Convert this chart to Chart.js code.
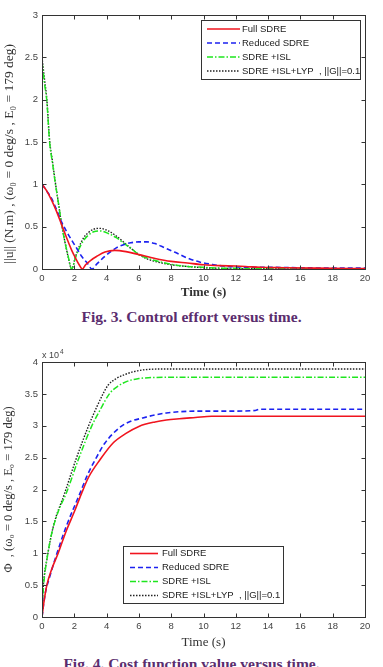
<!DOCTYPE html>
<html>
<head>
<meta charset="utf-8">
<script src="https://cdn.jsdelivr.net/npm/chart.js@4.4.1/dist/chart.umd.min.js"></script>
<style>
  html, body { margin: 0; padding: 0; background: #fff; }
  body { width: 383px; height: 667px; position: relative; overflow: hidden; }
  .wrap { position: absolute; left: 0; width: 383px; }
  .caption { position: absolute; left: 0; width: 383px; text-align: center; font: bold 15.5px "Liberation Serif", serif; color: #5b2d6e; }
</style>
</head>
<body>
<div class="wrap" style="top:0;height:300px"><canvas id="effort"></canvas></div>
<div class="caption" style="top:308px">Fig. 3. Control effort versus time.</div>
<div class="wrap" style="top:330px;height:320px"><canvas id="cost"></canvas></div>
<div class="caption" style="top:655px">Fig. 4. Cost function value versus time.</div>
<script>
// ---- Fig. 3 data: ||u|| (N.m) vs time (s)
const fullT = [0, 0.3, 0.6, 0.9, 1.2, 1.5, 1.84, 2.1, 2.3, 2.5, 2.7, 3.0, 3.4, 3.9, 4.5, 5.2, 6.0, 7.0, 8.0, 9.0, 10.0, 11.0, 12.0, 12.6, 13.5, 15, 17, 20];
const fullU = [1.0, 0.92, 0.81, 0.68, 0.53, 0.38, 0.22, 0.12, 0.05, 0.0, 0.05, 0.1, 0.15, 0.2, 0.22, 0.205, 0.17, 0.125, 0.09, 0.07, 0.05, 0.04, 0.035, 0.03, 0.02, 0.015, 0.01, 0.005];

const reducedT = [0, 0.3, 0.6, 0.9, 1.2, 1.5, 1.84, 2.1, 2.45, 2.8, 3.1, 3.4, 3.9, 4.3, 4.7, 5.1, 5.5, 6.0, 6.5, 7.0, 7.6, 8.2, 9.0, 9.8, 10.5, 11.2, 12, 14, 16, 18, 20];
const reducedU = [1.0, 0.92, 0.83, 0.7, 0.56, 0.45, 0.34, 0.26, 0.15, 0.07, 0.0, 0.06, 0.15, 0.21, 0.26, 0.29, 0.31, 0.32, 0.32, 0.3, 0.25, 0.2, 0.13, 0.08, 0.055, 0.035, 0.025, 0.02, 0.015, 0.01, 0.01];

const islT = [0, 0.15, 0.3, 0.47, 0.65, 0.82, 1.0, 1.24, 1.42, 1.6, 1.84, 2.05, 2.25, 2.55, 2.87, 3.2, 3.6, 4.1, 4.6, 5.1, 5.6, 6.0, 6.5, 7.0, 8.0, 9.0, 10, 11, 12, 14, 20];
const islU = [2.45, 2.2, 1.98, 1.5, 1.25, 1.02, 0.8, 0.5, 0.32, 0.17, 0.0, 0.12, 0.22, 0.33, 0.4, 0.44, 0.45, 0.42, 0.37, 0.3, 0.23, 0.17, 0.13, 0.1, 0.055, 0.03, 0.02, 0.01, 0.008, 0.005, 0.003];

const lypT = [0, 0.15, 0.3, 0.47, 0.65, 0.82, 1.0, 1.24, 1.42, 1.6, 1.84, 2.05, 2.25, 2.55, 2.87, 3.2, 3.6, 4.1, 4.6, 5.1, 5.6, 6.0, 6.5, 7.0, 8.0, 9.0, 10, 11, 12, 14, 20];
const lypU = [2.5, 2.25, 2.0, 1.52, 1.27, 1.03, 0.8, 0.5, 0.32, 0.16, 0.0, 0.13, 0.24, 0.36, 0.43, 0.47, 0.48, 0.45, 0.39, 0.31, 0.23, 0.17, 0.12, 0.09, 0.05, 0.03, 0.015, 0.008, 0.005, 0.003, 0.002];

// ---- Fig. 4 data: cost Phi (x 10^4) vs time (s)
const fullT2 = [0, 0.1, 0.3, 0.6, 1.0, 1.5, 2.0, 2.45, 2.9, 3.6, 4.4, 5.2, 6.0, 7.0, 7.7, 8.5, 9.5, 10.5, 12, 14, 16, 18, 20];
const fullPhi = [0, 0.2, 0.5, 0.75, 1.0, 1.35, 1.65, 1.94, 2.2, 2.47, 2.73, 2.88, 2.99, 3.06, 3.09, 3.11, 3.13, 3.15, 3.15, 3.15, 3.15, 3.15, 3.15];

const reducedT2 = [0, 0.1, 0.2, 0.5, 0.8, 1.5, 2.35, 2.8, 3.3, 3.9, 4.9, 5.5, 6.2, 7.0, 7.7, 8.5, 10, 12, 13.2, 13.5, 16, 20];
const reducedPhi = [0, 0.2, 0.37, 0.65, 0.9, 1.42, 1.94, 2.22, 2.47, 2.73, 2.99, 3.07, 3.12, 3.17, 3.2, 3.22, 3.23, 3.23, 3.24, 3.26, 3.26, 3.26];

const islT2 = [0, 0.05, 0.1, 0.3, 0.6, 1.0, 1.5, 2.25, 3.07, 3.6, 4.2, 4.7, 5.3, 6.0, 6.4, 7.5, 9, 12, 16, 20];
const islPhi = [0, 0.3, 0.5, 0.9, 1.31, 1.65, 1.94, 2.47, 2.99, 3.25, 3.51, 3.62, 3.7, 3.74, 3.75, 3.76, 3.76, 3.76, 3.76, 3.76];

const lypT2 = [0, 0.05, 0.1, 0.3, 0.7, 1.4, 2.1, 2.87, 3.4, 3.8, 4.1, 4.6, 5.1, 5.7, 6.4, 7.5, 9, 12, 16, 20];
const lypPhi = [0, 0.35, 0.55, 0.9, 1.42, 1.94, 2.47, 2.99, 3.3, 3.51, 3.64, 3.74, 3.8, 3.85, 3.88, 3.89, 3.89, 3.89, 3.89, 3.89];

const seriesNames = ["Full SDRE", "Reduced SDRE", "SDRE +ISL", "SDRE +ISL+LYP  , ||G||=0.1"];
const xTicks = [0, 2, 4, 6, 8, 10, 12, 14, 16, 18, 20];
const effortTicks = [0, 0.5, 1, 1.5, 2, 2.5, 3];
const costTicks = [0, 0.5, 1, 1.5, 2, 2.5, 3, 3.5, 4];

const styles = [
  { borderColor: "#f0141e", borderWidth: 1.6, borderDash: [] },
  { borderColor: "#1c22f0", borderWidth: 1.6, borderDash: [5, 3] },
  { borderColor: "#1ee61e", borderWidth: 1.5, borderDash: [6, 2, 1.5, 2] },
  { borderColor: "#222", borderWidth: 1.4, borderDash: [1.5, 1.5] }
];

function pts(ts, vs) { return ts.map((t, i) => ({ x: t, y: vs[i] })); }

function makeSets(pairs) {
  return pairs.map((p, i) => Object.assign({
    label: seriesNames[i],
    data: pts(p[0], p[1]),
    pointRadius: 0,
    fill: false,
    cubicInterpolationMode: "monotone"
  }, styles[i]));
}

// MATLAB-like box with inward ticks on all four sides
const boxTicks = {
  id: "boxTicks",
  afterDatasetsDraw(chart) {
    const { ctx, chartArea: a, scales: { x, y } } = chart;
    ctx.save();
    ctx.strokeStyle = "#333";
    ctx.lineWidth = 1;
    ctx.setLineDash([]);
    const L = Math.round(a.left) + 0.5, R = Math.round(a.right) + 0.5;
    const T = Math.round(a.top) + 0.5, B = Math.round(a.bottom) + 0.5;
    ctx.strokeRect(L, T, R - L, B - T);
    ctx.beginPath();
    x.ticks.forEach(t => {
      const px = Math.round(x.getPixelForValue(t.value)) + 0.5;
      ctx.moveTo(px, B); ctx.lineTo(px, B - 4);
      ctx.moveTo(px, T); ctx.lineTo(px, T + 4);
    });
    y.ticks.forEach(t => {
      const py = Math.round(y.getPixelForValue(t.value)) + 0.5;
      ctx.moveTo(L, py); ctx.lineTo(L + 4, py);
      ctx.moveTo(R, py); ctx.lineTo(R - 4, py);
    });
    ctx.stroke();
    ctx.restore();
  }
};

// legend drawn inside plot, like the matlab one
const legendBox = {
  id: "legendBox",
  afterDatasetsDraw(chart, args, o) {
    const ctx = chart.ctx;
    ctx.save();
    ctx.fillStyle = "#fff";
    ctx.fillRect(o.x, o.y, o.w, o.h);
    ctx.strokeStyle = "#333";
    ctx.lineWidth = 1;
    ctx.strokeRect(o.x + 0.5, o.y + 0.5, o.w, o.h);
    chart.data.datasets.forEach((ds, i) => {
      const yy = o.y + o.rowTop + i * o.rowH;
      ctx.strokeStyle = ds.borderColor;
      ctx.lineWidth = ds.borderWidth;
      ctx.setLineDash(ds.borderDash || []);
      ctx.beginPath();
      ctx.moveTo(o.x + o.lineX0, yy);
      ctx.lineTo(o.x + o.lineX1, yy);
      ctx.stroke();
      ctx.setLineDash([]);
      ctx.fillStyle = "#222";
      ctx.font = '9.5px "Liberation Sans", Arial, sans-serif';
      ctx.textBaseline = "middle";
      ctx.fillText(ds.label, o.x + o.textX, yy);
    });
    ctx.restore();
  }
};

// "x 10^4" exponent label above the y axis
const expLabel = {
  id: "expLabel",
  afterDraw(chart, args, o) {
    if (!o.show) return;
    const ctx = chart.ctx, a = chart.chartArea;
    ctx.save();
    ctx.fillStyle = "#444";
    ctx.textBaseline = "alphabetic";
    ctx.font = '9px "Liberation Sans", Arial, sans-serif';
    ctx.fillText("x 10", a.left, a.top - 4);
    const w = ctx.measureText("x 10").width;
    ctx.font = '6.5px "Liberation Sans", Arial, sans-serif';
    ctx.fillText("4", a.left + w + 1, a.top - 8);
    ctx.restore();
  }
};

function makeChart(id, sets, yMax, yTicks, yTitle, opts) {
  return new Chart(document.getElementById(id), {
    type: "line",
    data: { datasets: sets },
    plugins: [boxTicks, legendBox, expLabel],
    options: {
      responsive: true,
      maintainAspectRatio: false,
      animation: false,
      layout: { padding: { top: opts.top, right: 18, left: 0, bottom: 0 } },
      plugins: {
        legend: { display: false },
        tooltip: { enabled: false },
        legendBox: opts.legend,
        expLabel: { show: !!opts.exp }
      },
      scales: {
        x: {
          type: "linear",
          min: 0, max: 20,
          afterBuildTicks: s => { s.ticks = xTicks.map(v => ({ value: v })); },
          afterFit: s => { s.height = opts.xH; },
          grid: { display: false, drawTicks: false },
          border: { display: false },
          ticks: { padding: 4, color: "#444", font: { family: "Liberation Sans", size: 9.5 }, maxRotation: 0,
                   callback: v => String(v) },
          title: {
            display: true, text: "Time (s)", color: "#333",
            font: { family: "Liberation Serif", size: 13, weight: opts.xBold ? "bold" : "normal" },
            padding: { top: 1, bottom: 0 }
          }
        },
        y: {
          type: "linear",
          min: 0, max: yMax,
          afterBuildTicks: s => { s.ticks = yTicks.map(v => ({ value: v })); },
          afterFit: s => { s.width = 42; },
          grid: { display: false, drawTicks: false },
          border: { display: false },
          ticks: { padding: 4, color: "#444", font: { family: "Liberation Sans", size: 9.5 },
                   callback: v => String(v) },
          title: {
            display: true, text: yTitle, color: "#333",
            font: { family: "Liberation Serif", size: opts.yTitleSize },
            padding: { top: 1, bottom: 0 }
          }
        }
      }
    }
  });
}

makeChart("effort",
  makeSets([[fullT, fullU], [reducedT, reducedU], [islT, islU], [lypT, lypU]]),
  3, effortTicks,
  "||u|| (N.m) , (ω₀ = 0 deg/s , E₀ = 179 deg)       ",
  { top: 15, xH: 31, xBold: true, yTitleSize: 13.5,
    legend: { x: 201, y: 20, w: 159, h: 59, rowTop: 9, rowH: 14, lineX0: 6, lineX1: 39, textX: 41 } });

makeChart("cost",
  makeSets([[fullT2, fullPhi], [reducedT2, reducedPhi], [islT2, islPhi], [lypT2, lypPhi]]),
  4, costTicks,
  "Φ  , (ω₀ = 0 deg/s , E₀ = 179 deg)",
  { top: 32, xH: 33, xBold: false, exp: true, yTitleSize: 12.5,
    legend: { x: 123, y: 216, w: 160, h: 57, rowTop: 7.5, rowH: 14, lineX0: 7, lineX1: 35, textX: 39 } });
</script>
</body>
</html>
